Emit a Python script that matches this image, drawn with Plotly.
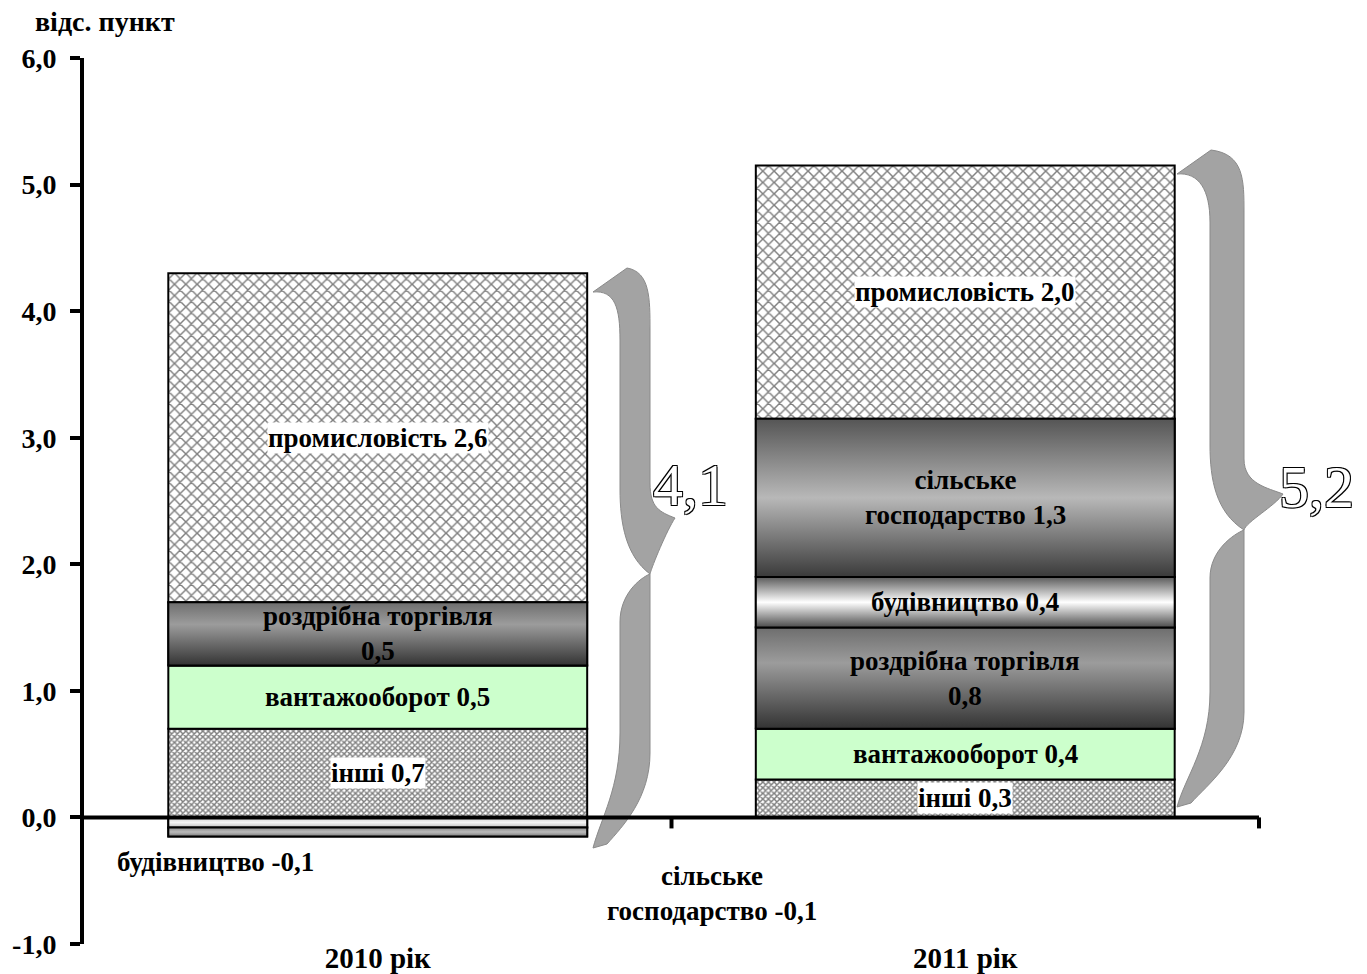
import plotly.graph_objects as go

# ---------------- data ----------------
years = ["2010 рік", "2011 рік"]
sectors = ["інші", "вантажооборот", "роздрібна торгівля", "будівництво",
           "сільське господарство", "промисловість"]
values_2010 = [0.7, 0.5, 0.5, -0.08, -0.07, 2.6]
values_2011 = [0.3, 0.4, 0.8, 0.4, 1.25, 2.0]
value_labels_2010 = ["0,7", "0,5", "0,5", "-0,1", "-0,1", "2,6"]
value_labels_2011 = ["0,3", "0,4", "0,8", "0,4", "1,3", "2,0"]
total_labels = ["4,1", "5,2"]
y_tick_values = [-1, 0, 1, 2, 3, 4, 5, 6]
y_tick_labels = ["-1,0", "0,0", "1,0", "2,0", "3,0", "4,0", "5,0", "6,0"]
y_axis_title = "відс. пункт"

# ---------------- layout constants ----------------
OFF = 0                      # page body margin (removed via post_script)
W, H = 1367, 974
ML, MR, MT, MB = 84, 7, 58, 30
PW, PH = W - ML - MR, H - MT - MB
X_PER_CAT = 587.5
XR = [-0.5, -0.5 + PW / X_PER_CAT]
YR = [-1, 6]
BAR_W = 0.713
FONT = "Liberation Serif"

def px2x(px):   # page pixel -> data x
    return XR[0] + (px - OFF - ML) / PW * (XR[1] - XR[0])

def px2y(py):   # page pixel -> data y
    return YR[1] - (py - OFF - MT) / PH * (YR[1] - YR[0])

def y2px(v):
    return OFF + MT + (YR[1] - v) / (YR[1] - YR[0]) * PH

styles = {
    "інші": dict(kind="pattern", shape="x", size=4, solidity=0.6),
    "вантажооборот": dict(kind="solid", color="#CCFFCC"),
    "роздрібна торгівля": dict(kind="gradient",
                               scale=[[0, "#333333"], [0.65, "#9c9c9c"], [1, "#6e6e6e"]]),
    "будівництво": dict(kind="gradient",
                        scale=[[0, "#4a4a4a"], [0.5, "#ffffff"], [1, "#5a5a5a"]]),
    "сільське господарство": dict(kind="gradient",
                                  scale=[[0, "#3a3a3a"], [0.5, "#b8b8b8"], [1, "#555555"]]),
    "промисловість": dict(kind="pattern", shape="x", size=8, solidity=0.33),
}
neg_styles = {
    "будівництво": [[0, "#bdbdbd"], [0.5, "#f4f4f4"], [1, "#cfcfcf"]],
    "сільське господарство": [[0, "#7a7a7a"], [0.5, "#bbbbbb"], [1, "#8a8a8a"]],
}

series = [values_2010, values_2011]
vlabels = [value_labels_2010, value_labels_2011]

# stacking
bases = [[0.0] * len(sectors) for _ in years]
for yi, vals in enumerate(series):
    pos, neg = 0.0, 0.0
    for si, v in enumerate(vals):
        if v >= 0:
            bases[yi][si] = pos
            pos += v
        else:
            bases[yi][si] = neg
            neg += v

fig = go.Figure()

# bars
for si, name in enumerate(sectors):
    st = styles[name]
    vals = [series[yi][si] for yi in range(len(years))]
    b = [bases[yi][si] for yi in range(len(years))]
    marker = dict(line=dict(color="black", width=2))
    if st["kind"] == "solid":
        marker["color"] = st["color"]
    elif st["kind"] == "pattern":
        marker["color"] = "white"
        marker["pattern"] = dict(shape=st["shape"], size=st["size"],
                                 solidity=st["solidity"], fgcolor="black",
                                 bgcolor="white", fillmode="overlay")
    else:
        marker["color"] = "#888888"
    fig.add_trace(go.Bar(x=list(range(len(years))), y=vals, base=b, width=BAR_W,
                         marker=marker, name=name, showlegend=False,
                         hoverinfo="skip"))

# gradient overlays on gradient segments
for si, name in enumerate(sectors):
    st = styles[name]
    if st["kind"] != "gradient":
        continue
    for yi in range(len(years)):
        v = series[yi][si]
        b = bases[yi][si]
        c = yi
        scale = st["scale"] if v >= 0 else neg_styles[name]
        fig.add_trace(go.Scatter(
            x=[c - BAR_W / 2, c + BAR_W / 2, c + BAR_W / 2, c - BAR_W / 2, c - BAR_W / 2],
            y=[b, b, b + v, b + v, b],
            mode="lines", fill="toself",
            fillgradient=dict(type="vertical", colorscale=scale),
            line=dict(color="black", width=2),
            showlegend=False, hoverinfo="skip"))

# segment labels
def seg_text(name, lab):
    if name == "роздрібна торгівля":
        return name + "<br>" + lab
    if name == "сільське господарство":
        return "сільське<br>господарство " + lab
    return name + " " + lab

outside_label_pos = {  # page-pixel positions of labels placed outside small negative segments
    (0, "будівництво"): (215, 862),
    (0, "сільське господарство"): (712, 893),
}
LBL = dict(family=FONT, size=27, color="black", weight="bold")
white_bg = {"інші", "промисловість"}
for yi in range(len(years)):
    for si, name in enumerate(sectors):
        v = series[yi][si]
        b = bases[yi][si]
        txt = seg_text(name, vlabels[yi][si])
        if (yi, name) in outside_label_pos:
            px, py = outside_label_pos[(yi, name)]
            fig.add_annotation(x=px2x(px), y=px2y(py), text=txt, showarrow=False,
                               font=LBL, align="center")
        else:
            fig.add_annotation(x=yi, y=b + v / 2, text=txt, showarrow=False,
                               font=LBL, align="center",
                               bgcolor="white" if name in white_bg else None,
                               borderpad=0)

# curly braces (decoration), page-pixel geometry converted to data coordinates
def P(px, py):
    return f"{px2x(px):.5f},{px2y(py):.5f}"

def brace_paths(xl, xs, hw, tipx, yt, yb, ytip, ycusp):
    up = ("M " + P(xl, yt + 24) + " L " + P(xl + 34, yt) +
          " C " + P(xs + hw, yt + 4) + " " + P(xs + hw, yt + 30) + " " + P(xs + hw, yt + 62) +
          " L " + P(xs + hw, ytip - 35) +
          " C " + P(xs + hw, ytip - 10) + " " + P(tipx - 15, ytip - 6) + " " + P(tipx, ytip) +
          " C " + P(tipx - 8, ytip + 12) + " " + P(xs + hw + 2, ycusp - 8) + " " + P(xs + hw, ycusp) +
          " C " + P(xs - hw + 6, ycusp - 18) + " " + P(xs - hw, ycusp - 50) + " " + P(xs - hw, ycusp - 85) +
          " L " + P(xs - hw, yt + 72) +
          " C " + P(xs - hw, yt + 40) + " " + P(xl + 22, yt + 22) + " " + P(xl, yt + 24) + " Z")
    lo = ("M " + P(xs + hw, ycusp) +
          " L " + P(xs + hw, yb - 95) +
          " C " + P(xs + hw, yb - 50) + " " + P(xl + 30, yb - 22) + " " + P(xl + 14, yb - 4) +
          " L " + P(xl, yb) +
          " C " + P(xl + 8, yb - 30) + " " + P(xs - hw, yb - 60) + " " + P(xs - hw, yb - 115) +
          " L " + P(xs - hw, ycusp + 48) +
          " C " + P(xs - hw, ycusp + 20) + " " + P(xs + hw - 10, ycusp + 4) + " " + P(xs + hw, ycusp) + " Z")
    return up, lo

brace_geom = [
    dict(xl=593, xs=635, hw=15, tipx=675, yt=268, yb=848, ytip=518, ycusp=574),
    dict(xl=1177, xs=1227, hw=17, tipx=1283, yt=150, yb=807, ytip=494, ycusp=530),
]
total_pos = [(690, 485), (1316, 487)]
for yi in range(len(years)):
    for p in brace_paths(**brace_geom[yi]):
        fig.add_shape(type="path", path=p, xref="x", yref="y",
                      fillcolor="#a3a3a3", line=dict(color="#8a8a8a", width=1), layer="above")
    tx, ty = total_pos[yi]
    fig.add_annotation(x=px2x(tx), y=px2y(ty), text=total_labels[yi], showarrow=False,
                       font=dict(family=FONT, size=60, color="white",
                                 shadow="1px 1px 0 #000, -1px -1px 0 #000, 1px -1px 0 #000, -1px 1px 0 #000"))

# zero axis line with ticks
fig.add_shape(type="line", x0=XR[0], x1=1.5, y0=0, y1=0, xref="x", yref="y",
              line=dict(color="black", width=4), layer="above")
for tx in [0.5, 1.5]:
    fig.add_shape(type="line", x0=tx, x1=tx, y0=0, y1=px2y(y2px(0) + 11), xref="x", yref="y",
                  line=dict(color="black", width=4), layer="above")

# y-axis title
fig.add_annotation(xref="paper", yref="paper", x=(105 - OFF - ML) / PW,
                   y=1 + (MT + OFF - 21) / PH, xanchor="center", yanchor="middle",
                   text=y_axis_title, showarrow=False,
                   font=dict(family=FONT, size=28, color="black", weight="bold"))

fig.update_layout(
    width=W, height=H, margin=dict(l=ML, r=MR, t=MT, b=MB, autoexpand=False),
    paper_bgcolor="white", plot_bgcolor="white", barmode="overlay",
    showlegend=False,
    xaxis=dict(range=XR, tickvals=list(range(len(years))), ticktext=years,
               showgrid=False, zeroline=False, showline=False, ticks="",
               automargin=False, ticklabelstandoff=-6,
               tickfont=dict(family=FONT, size=29, color="black", weight="bold")),
    yaxis=dict(range=YR, tickvals=y_tick_values, ticktext=y_tick_labels,
               showgrid=False, zeroline=False, showline=True, linecolor="black",
               linewidth=4, ticks="outside", ticklen=10, tickwidth=4, tickcolor="black",
               automargin=False, ticklabelstandoff=8,
               tickfont=dict(family=FONT, size=28, color="black", weight="bold")),
)

fig.write_html("out.html", config={"displayModeBar": False},
               post_script="document.body.style.margin='0px';document.body.style.overflow='hidden';")
